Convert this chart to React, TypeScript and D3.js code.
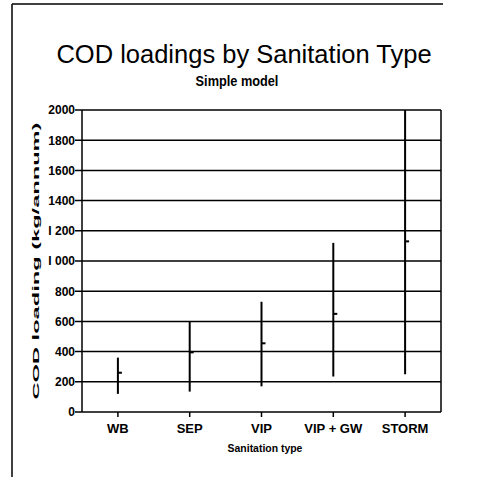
import React from "react";
import * as d3 from "d3";

const categories = ["WB", "SEP", "VIP", "VIP + GW", "STORM"];
const highValues = [360, 600, 730, 1120, 2000];
const lowValues = [120, 135, 170, 235, 250];
const meanValues = [260, 395, 455, 650, 1130];
const yTicks = [0, 200, 400, 600, 800, 1000, 1200, 1400, 1600, 1800, 2000];
const yTickLabels = ["0", "200", "400", "600", "800", "I 000", "I 200", "1400", "1600", "1800", "2000"];

const W = 483;
const H = 477;
const left = 82;
const right = 441;
const top = 110;
const bottom = 412;

const SANS = "'Liberation Sans', Arial, sans-serif";

export default function App() {
  const x = d3.scaleBand<string>().domain(categories).range([left, right]);
  const y = d3.scaleLinear().domain([0, 2000]).range([bottom, top]);
  const cx = (c: string) => (x(c) ?? 0) + x.bandwidth() / 2;

  return (
    <svg width={W} height={H} style={{ position: "absolute", left: 0, top: 0, background: "#fff" }}>
      <rect x={0} y={0} width={W} height={H} fill="#fff" />
      {/* outer frame */}
      <line x1={12} x2={443} y1={4} y2={4} stroke="#000" strokeWidth={1.5} />
      <line x1={12} x2={12} y1={4} y2={H} stroke="#000" strokeWidth={1.5} />

      {/* title */}
      <text x={244} y={63} textAnchor="middle" fontFamily={SANS} fontSize={25.5} fill="#000">
        COD loadings by Sanitation Type
      </text>
      <text transform="translate(237,86) scale(0.85,1)" textAnchor="middle" fontFamily={SANS} fontWeight="bold" fontSize={15} fill="#000">
        Simple model
      </text>

      {/* gridlines */}
      {yTicks.map((t) => (
        <line key={"g" + t} x1={left - 7} x2={right} y1={y(t)} y2={y(t)} stroke="#000" strokeWidth={1.5} />
      ))}
      {/* frame */}
      <line x1={left} x2={left} y1={top} y2={bottom} stroke="#000" strokeWidth={1.5} />
      <line x1={right} x2={right} y1={top} y2={bottom} stroke="#000" strokeWidth={1.5} />

      {/* y tick labels */}
      {yTicks.map((t, i) => (
        <text key={"l" + t} x={left - 7} y={y(t) + 4.3} textAnchor="end" fontFamily={SANS} fontWeight="bold" fontSize={12} fill="#000">
          {yTickLabels[i]}
        </text>
      ))}

      {/* y axis title */}
      <text
        transform={`translate(39,261) rotate(-90)`}
        textAnchor="middle"
        fontFamily={SANS}
        fontWeight="bold"
        fontSize={9}
        textLength={277}
        lengthAdjust="spacingAndGlyphs"
        fill="#000"
      >
        COD loading (kg/annum)
      </text>

      {/* x ticks & labels */}
      {categories.map((c) => (
        <g key={"x" + c}>
          <line x1={cx(c)} x2={cx(c)} y1={bottom} y2={bottom + 5} stroke="#000" strokeWidth={1.5} />
          <text x={cx(c)} y={433} textAnchor="middle" fontFamily={SANS} fontWeight="bold" fontSize={13} fill="#000">
            {c}
          </text>
        </g>
      ))}
      <text transform="translate(265,452) scale(0.95,1)" textAnchor="middle" fontFamily={SANS} fontWeight="bold" fontSize={11} fill="#000">
        Sanitation type
      </text>

      {/* high-low-mean marks */}
      {categories.map((c, i) => (
        <g key={"m" + c}>
          <line x1={cx(c)} x2={cx(c)} y1={y(lowValues[i])} y2={y(highValues[i])} stroke="#000" strokeWidth={2} />
          <line x1={cx(c)} x2={cx(c) + 4} y1={y(meanValues[i])} y2={y(meanValues[i])} stroke="#000" strokeWidth={2} />
        </g>
      ))}
    </svg>
  );
}
